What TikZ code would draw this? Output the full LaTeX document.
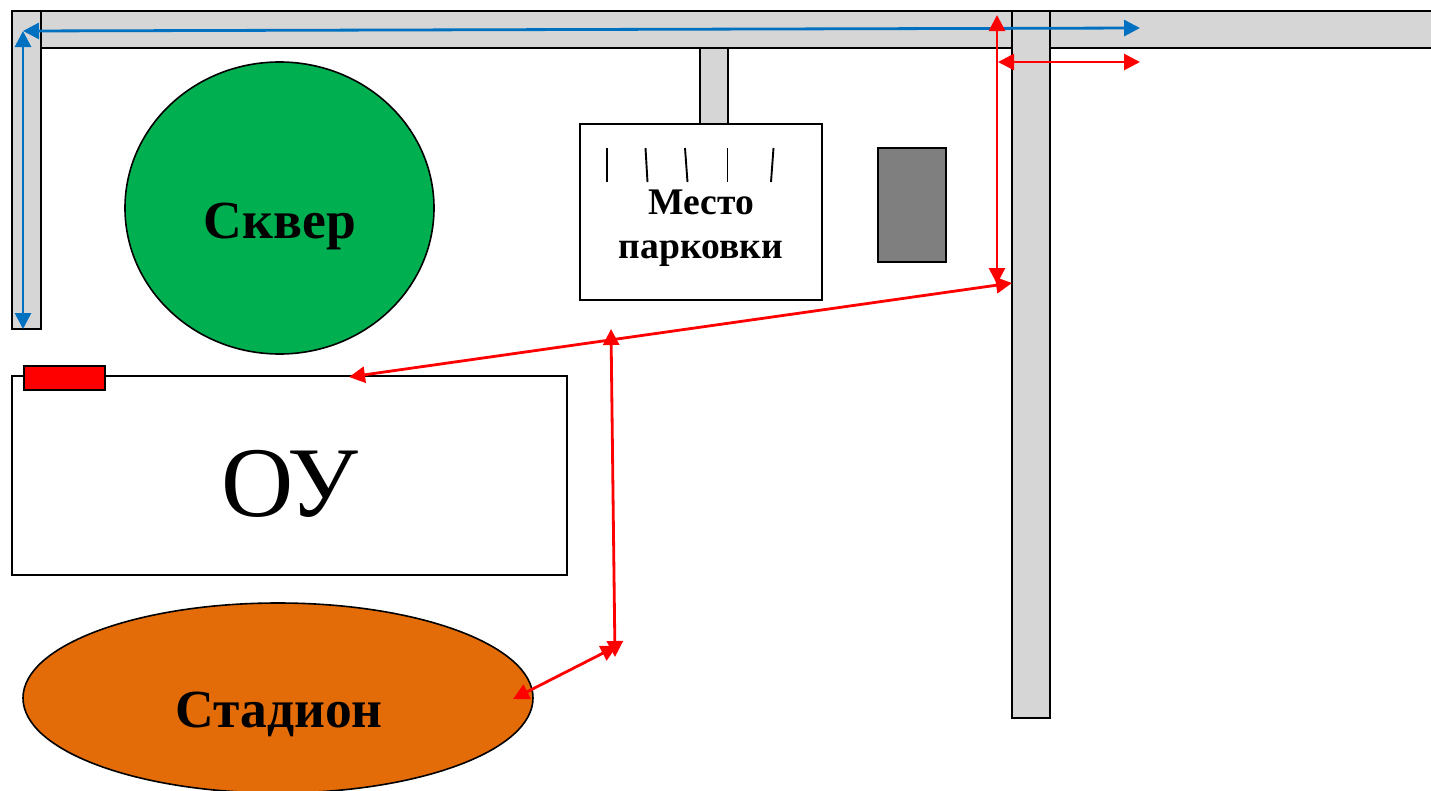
\documentclass[tikz,border=0pt]{standalone}
\usepackage{fontspec}
\setmainfont{Liberation Serif}
\usetikzlibrary{arrows.meta,shapes.geometric}
\definecolor{road}{RGB}{214,214,214}
\definecolor{park}{RGB}{0,176,80}
\definecolor{stad}{RGB}{227,108,9}
\definecolor{lot}{RGB}{127,127,127}
\definecolor{bluear}{RGB}{0,112,192}
\tikzset{
  outl/.style={draw=black,line width=1.6pt,inner sep=0pt,outer sep=0pt},
  roadbox/.style={outl,fill=road,rectangle},
  lbl/.style={inner sep=0pt,font=\bfseries\fontsize{53.6}{58}\selectfont,align=center},
  redar/.style={draw=red,line width=2.8pt,{Triangle[length=16pt,width=16pt]}-{Triangle[length=16pt,width=16pt]}},
  bluearw/.style={draw=bluear,line width=2.8pt,{Triangle[length=16pt,width=16pt]}-{Triangle[length=16pt,width=16pt]}},
  tick/.style={draw=black,line width=1.9pt}
}
\begin{document}
\begin{tikzpicture}[x=1pt,y=-1pt]
\useasboundingbox (0,0) rectangle (1431,790);
\clip (0,0) rectangle (1431,790);
% roads
\node[roadbox,minimum width=1425pt,minimum height=37pt] (roadtop) at (724.5,29.5) {};
\node[roadbox,minimum width=29pt,minimum height=318pt] (roadleft) at (26.5,170) {};
\node[roadbox,minimum width=38pt,minimum height=707pt] (roadright) at (1031,364.5) {};
\node[roadbox,minimum width=28pt,minimum height=76pt] (stub) at (714,86) {};
% parking
\node[outl,fill=white,rectangle,minimum width=242pt,minimum height=176pt] (parking) at (701,212) {};
\node[outl,fill=lot,rectangle,minimum width=68pt,minimum height=114pt] (lotbox) at (912,205) {};
\coordinate (t1a) at (607,148); \coordinate (t1b) at (607,182);
\coordinate (t2a) at (645.5,148); \coordinate (t2b) at (647.5,182);
\coordinate (t3a) at (685,148); \coordinate (t3b) at (687.5,182);
\coordinate (t4a) at (727.5,148); \coordinate (t4b) at (727.5,182);
\coordinate (t5a) at (773.5,148); \coordinate (t5b) at (771,182);
\draw[tick] (t1a) -- (t1b);
\draw[tick] (t2a) -- (t2b);
\draw[tick] (t3a) -- (t3b);
\draw[tick] (t4a) -- (t4b);
\draw[tick] (t5a) -- (t5b);
\node[lbl,font=\bfseries\fontsize{37.6}{44}\selectfont] (parktext) at (701,228) {Место\\[0pt]парковки};
% square
\node[outl,fill=park,ellipse,minimum width=309pt,minimum height=292pt] (square) at (279.5,208) {};
\node[lbl] (squaretext) at (280,226) {Сквер};
% school
\node[outl,fill=white,rectangle,minimum width=555pt,minimum height=199pt] (school) at (289.5,475.5) {};
\node[outl,fill=red,rectangle,minimum width=81pt,minimum height=24pt] (entry) at (64.5,378) {};
\node[inner sep=0pt,font=\fontsize{100}{104}\selectfont] (schooltext) at (290,484) {ОУ};
% stadium
\node[outl,fill=stad,ellipse,minimum width=510pt,minimum height=190pt] (stadium) at (278,698) {};
\node[lbl] (stadiumtext) at (279,714) {Стадион};
% arrows
\coordinate (cornerA) at (23,31);
\coordinate (leftEnd) at (23,329);
\coordinate (topEnd) at (1140,28);
\draw[bluearw] (leftEnd) -- (cornerA);
\draw[bluearw] (cornerA) -- (topEnd);
\coordinate (rv1) at (997,15);
\coordinate (rv2) at (997,284);
\coordinate (rh1) at (998,62);
\coordinate (rh2) at (1140,62);
\coordinate (rl1) at (1012,283);
\coordinate (rl2) at (349,377);
\coordinate (ru1) at (611,329);
\coordinate (ru2) at (615,657);
\coordinate (rs1) at (513,699);
\coordinate (rs2) at (617,646);
\draw[redar] (rv1) -- (rv2);
\draw[redar] (rh1) -- (rh2);
\draw[redar] (rl1) -- (rl2);
\draw[redar] (ru1) -- (ru2);
\draw[redar] (rs1) -- (rs2);
\end{tikzpicture}
\end{document}
